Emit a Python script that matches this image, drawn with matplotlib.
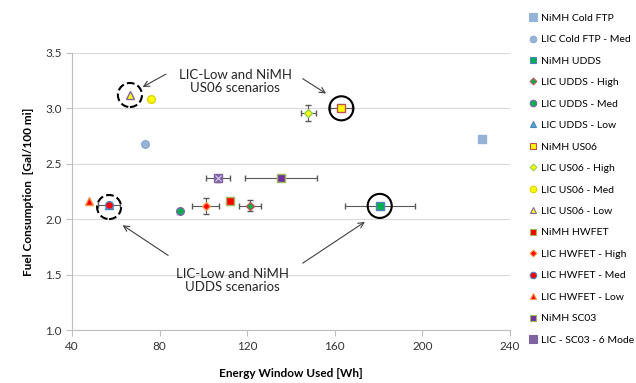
import matplotlib.pyplot as plt
from matplotlib.lines import Line2D

plt.rcParams['font.family'] = ['Lato', 'DejaVu Sans']

labels = ['NiMH Cold FTP', 'LIC Cold FTP - Med', 'NiMH UDDS', 'LIC UDDS - High',
          'LIC UDDS - Med', 'LIC UDDS - Low', 'NiMH US06', 'LIC US06 - High',
          'LIC US06 - Med', 'LIC US06 - Low', 'NiMH HWFET', 'LIC HWFET - High',
          'LIC HWFET - Med', 'LIC HWFET - Low', 'NiMH SC03', 'LIC - SC03 - 6 Mode']
energy = [227, 73.5, 180.5, 121.5, 89.5, 57, 163, 148, 76, 66.5, 112, 101, 57, 48, 135.5, 106.5]
fuel = [2.72, 2.68, 2.12, 2.12, 2.07, 2.13, 3.0, 2.96, 3.08, 3.12, 2.16, 2.12, 2.13, 2.16, 2.37, 2.37]
energy_err = [0, 0, 16, 5, 0, 5, 5, 3.5, 0, 0, 0, 6, 0, 0, 16.5, 5.5]
fuel_err = [0, 0, 0, 0.05, 0, 0, 0, 0.07, 0, 0, 0, 0.075, 0, 0, 0, 0.03]

markers = ['s', 'o', 's', 'D', 'o', '^', 's', 'D', 'o', '^', 's', 'D', 'o', '^', 's', 's']
faces = ['#95B3D7', '#95B3D7', '#00B050', '#00B050', '#00B050', '#4BACC6',
         '#FFFF00', '#FFFF00', '#FFFF00', '#FFFF00', '#FF0000', '#FF0000',
         '#FF0000', '#FF0000', '#7030A0', '#8064A2']
edges = ['#95B3D7', '#8EA9D0', '#4F81BD', '#C0504D', '#8064A2', '#4F81BD',
         '#C0504D', '#92D050', '#E0D000', '#8064A2', '#9BBB59', '#F79646',
         '#4F81BD', '#F79646', '#9BBB59', '#8064A2']
sizes = [6, 5.5, 5.5, 4, 5.5, 5.5, 5.5, 4, 5.5, 5.5, 5.5, 4, 5.5, 5.5, 5.5, 6]

fig = plt.figure(figsize=(6.36, 3.83), dpi=100)
ax = fig.add_axes([0.113, 0.138, 0.689, 0.724])

handles = []
for i in range(len(labels)):
    xe = energy_err[i] if energy_err[i] > 0 else None
    ye = fuel_err[i] if fuel_err[i] > 0 else None
    ax.errorbar(energy[i], fuel[i], xerr=xe, yerr=ye, fmt=markers[i],
                ms=sizes[i], mfc=faces[i], mec=edges[i], mew=1,
                ecolor='#595959', elinewidth=0.8, capsize=2.5, capthick=0.8,
                zorder=3)
    handles.append(Line2D([], [], ls='none', marker=markers[i], ms=sizes[i] * 0.85,
                          mfc=faces[i], mec=edges[i], mew=0.8, label=labels[i]))

# pattern on the SC03 6-mode marker
ax.plot(energy[15], fuel[15], 'x', ms=4, mec='#D9C9F0', mew=0.8, zorder=4)

# highlight circles
ax.scatter([energy[6], energy[2]], [fuel[6], fuel[2]], s=300, facecolors='none',
           edgecolors='black', linewidths=1.5, zorder=5)
ax.scatter([energy[9], energy[12]], [fuel[9], fuel[12] - 0.02], s=300, facecolors='none',
           edgecolors='black', linewidths=1.5, linestyles='--', zorder=5)

arrow = dict(arrowstyle='->', color='#404040', lw=0.8)
ax.annotate('', xy=(71.2, 3.18), xytext=(84, 3.32), arrowprops=arrow)
ax.annotate('', xy=(157.1, 3.12), xytext=(144.3, 3.28), arrowprops=arrow)
ax.text(114.6, 3.24, 'LIC-Low and NiMH\nUS06 scenarios', ha='center', va='center',
        fontsize=9.5, color='#262626', linespacing=1.1)
ax.annotate('', xy=(62.1, 1.96), xytext=(85, 1.66), arrowprops=arrow)
ax.annotate('', xy=(174.8, 1.99), xytext=(144.3, 1.59), arrowprops=arrow)
ax.text(113.2, 1.45, 'LIC-Low and NiMH\nUDDS scenarios', ha='center', va='center',
        fontsize=9.5, color='#262626', linespacing=1.1)

ax.set_xlim(40, 240)
ax.set_ylim(1.0, 3.5)
ax.set_xticks([40, 80, 120, 160, 200, 240])
ax.set_yticks([1.0, 1.5, 2.0, 2.5, 3.0, 3.5])
ax.set_yticklabels(['1.0', '1.5', '2.0', '2.5', '3.0', '3.5'])
ax.grid(axis='y', color='#D9D9D9', lw=0.8)
ax.set_axisbelow(True)
for s in ['top', 'right']:
    ax.spines[s].set_visible(False)
for s in ['left', 'bottom']:
    ax.spines[s].set_color('#BFBFBF')
ax.tick_params(colors='#BFBFBF', labelcolor='#333333', labelsize=8.5, length=4)

ax.set_xlabel('Energy Window Used [Wh]', fontsize=8.5, fontweight='bold', labelpad=12)
ax.set_ylabel('Fuel Consumption  [Gal/100 mi]', fontsize=8.5, fontweight='bold', labelpad=8)

fig.legend(handles=handles, loc='upper left', bbox_to_anchor=(0.833, 0.965), frameon=False,
           fontsize=7.5, labelspacing=1.17, handlelength=0.7, handletextpad=0.4,
           borderaxespad=0, borderpad=0)

fig.savefig('out.png', dpi=100)
